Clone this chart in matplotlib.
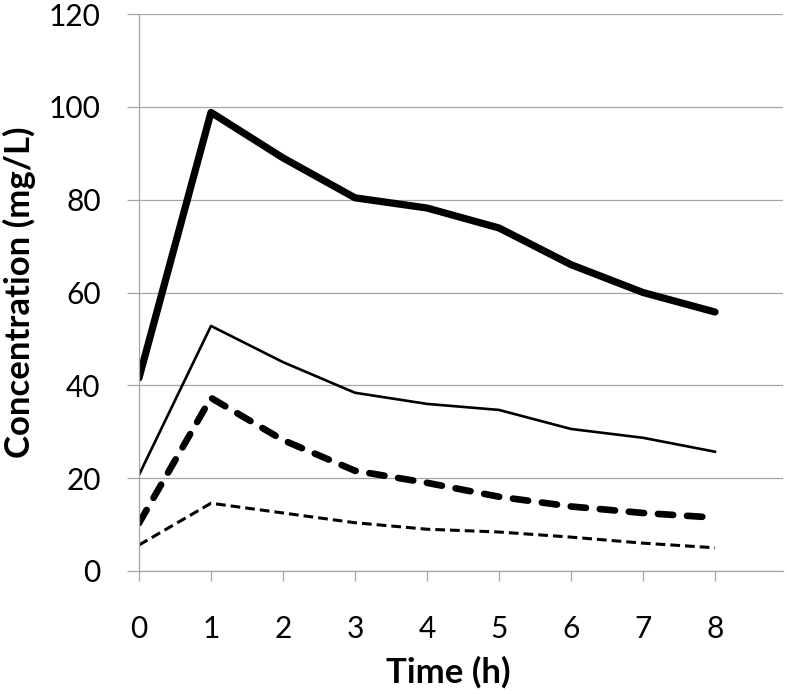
import matplotlib
matplotlib.use("Agg")
import matplotlib.pyplot as plt

# Concentration-time profiles
time_h = [0, 1, 2, 3, 4, 5, 6, 7, 8]
conc_high = [41.6, 98.8, 89.0, 80.4, 78.2, 73.9, 66.0, 60.0, 55.8]
conc_mid = [20.7, 52.8, 45.0, 38.4, 36.0, 34.7, 30.6, 28.7, 25.7]
conc_low = [10.3, 37.3, 28.2, 21.6, 19.0, 16.0, 13.9, 12.5, 11.5]
conc_min = [5.6, 14.6, 12.5, 10.4, 9.0, 8.4, 7.3, 6.0, 5.0]

y_ticks = [0, 20, 40, 60, 80, 100, 120]

plt.rcParams['font.family'] = ['Lato', 'DejaVu Sans']
plt.rcParams['lines.scale_dashes'] = False

W, H = 787, 694
fig = plt.figure(figsize=(W / 100, H / 100), dpi=100)
ax = fig.add_axes([139 / W, 123 / H, 0.8188, 557 / H])

grid_col = '#a6a6a6'

ax.plot(time_h, conc_high, color='black', lw=5.2, solid_joinstyle='round',
        solid_capstyle='round')
ax.plot(time_h, conc_mid, color='black', lw=1.9, solid_joinstyle='round')
ax.plot(time_h, conc_low, color='black', lw=4.8, dashes=(11, 10),
        dash_capstyle='round', dash_joinstyle='round')
ax.plot(time_h, conc_min, color='black', lw=2.2, dashes=(7, 3.6),
        dash_capstyle='butt')

ax.set_xlim(0, 8.95)
ax.set_ylim(0, 120)
ax.set_xticks(time_h)
ax.set_yticks(y_ticks)

ax.grid(axis='y', color=grid_col, lw=0.9)
ax.set_axisbelow(True)
for side in ['top', 'right']:
    ax.spines[side].set_visible(False)
for side in ['left', 'bottom']:
    ax.spines[side].set_color(grid_col)
    ax.spines[side].set_linewidth(0.9)

ax.tick_params(axis='y', length=8.6, width=0.9, color=grid_col, pad=19,
               labelsize=21.5, labelcolor='black')
ax.tick_params(axis='x', length=7, width=0.9, color=grid_col, pad=25,
               labelsize=21.5, labelcolor='black')

ax.set_xlabel('Time (h)', fontsize=25, fontweight='bold', va='center')
ax.xaxis.set_label_coords(0.48, -0.181)
ax.set_ylabel('Concentration (mg/L)', fontsize=25, fontweight='bold', va='center')
ax.yaxis.set_label_coords(-0.185, 0.501)

fig.savefig('out.png', dpi=100, facecolor='white')
